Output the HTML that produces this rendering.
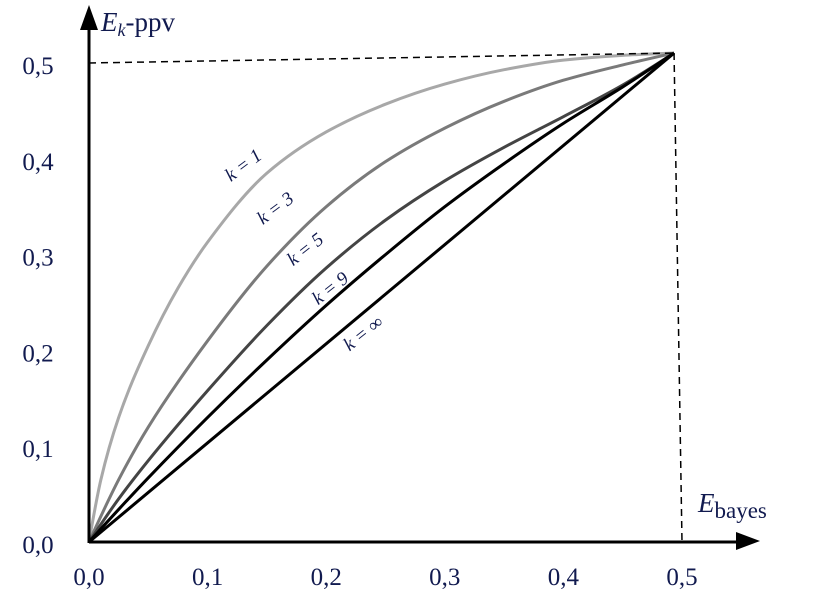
<!DOCTYPE html>
<html><head><meta charset="utf-8"><style>
html,body{margin:0;padding:0;background:#fff;}
svg{display:block;font-family:"Liberation Serif",serif;}
</style></head><body>
<svg id="chart" width="818" height="616" viewBox="0 0 818 616">
<g id="curves"></g>
<g id="axes"></g>
<g id="labels"></g>
</svg>
<script>
const xTicks=[0,0.1,0.2,0.3,0.4,0.5];
const xTickLabels=["0,0","0,1","0,2","0,3","0,4","0,5"];
const yTicks=[0,0.1,0.2,0.3,0.4,0.5];
const yTickLabels=["0,0","0,1","0,2","0,3","0,4","0,5"];
const seriesNames=["k=1","k=3","k=5","k=9","k=inf"];
const k1X=[0,0.01,0.025,0.05,0.075,0.1,0.15,0.2,0.25,0.3,0.35,0.4,0.45,0.4933];
const k1Y=[0,0.065,0.13,0.205,0.265,0.313,0.385,0.428,0.457,0.478,0.493,0.503,0.508,0.5104];
const k3X=[0,0.025,0.05,0.1,0.15,0.2,0.25,0.3,0.35,0.4,0.45,0.4933];
const k3Y=[0,0.065,0.12,0.21,0.288,0.350,0.397,0.432,0.46,0.482,0.498,0.5104];
const k5X=[0,0.025,0.05,0.1,0.15,0.2,0.25,0.3,0.35,0.4,0.45,0.4933];
const k5Y=[0,0.045,0.085,0.158,0.226,0.286,0.336,0.377,0.412,0.444,0.477,0.5104];
const k9X=[0,0.025,0.05,0.1,0.15,0.2,0.25,0.3,0.35,0.4,0.45,0.4933];
const k9Y=[0,0.034,0.067,0.13,0.19,0.247,0.30,0.35,0.395,0.437,0.475,0.5104];
const kInfX=[0,0.4933];
const kInfY=[0,0.5104];

const NS="http://www.w3.org/2000/svg";
const X0=89,Y0=542;
function sx(v){return X0+v*1186;}
function sy(v){return Y0-v*958;}
function mk(tag,attrs,parent){const e=document.createElementNS(NS,tag);for(const k in attrs)e.setAttribute(k,attrs[k]);parent.appendChild(e);return e;}
const curves=document.getElementById('curves'),axes=document.getElementById('axes'),labels=document.getElementById('labels');
const navy="#111a4f";

// monotone cubic (Fritsch-Carlson)
function monotone(xs,ys){
  const n=xs.length,dl=[],m=new Array(n);
  for(let i=0;i<n-1;i++)dl.push((ys[i+1]-ys[i])/(xs[i+1]-xs[i]));
  m[0]=dl[0];m[n-1]=dl[n-2];
  for(let i=1;i<n-1;i++){
    if(dl[i-1]*dl[i]<=0)m[i]=0;
    else{const h0=xs[i]-xs[i-1],h1=xs[i+1]-xs[i];const w1=2*h1+h0,w2=h1+2*h0;m[i]=(w1+w2)/(w1/dl[i-1]+w2/dl[i]);}
  }
  // end slope extrapolation
  if(n>2){m[0]=Math.max(0,(3*dl[0]-m[1])/2);m[n-1]=Math.max(0,(3*dl[n-2]-m[n-2])/2);}
  return m;
}
const endX=sx(kInfX[1]),endY=sy(kInfY[1]);
let d1=mk('line',{x1:X0,y1:sy(0.5),x2:endX,y2:endY,stroke:"#000","stroke-width":1.5,"stroke-dasharray":"7,5"},axes);


let d2=mk('line',{x1:endX,y1:endY,x2:sx(0.5),y2:Y0,stroke:"#000","stroke-width":1.5,"stroke-dasharray":"7,5"},axes);



const series=[[k1X,k1Y,"#a8a8a8"],[k3X,k3Y,"#7a7a7a"],[k5X,k5Y,"#444"],[k9X,k9Y,"#000"],[kInfX,kInfY,"#000"]];
series.forEach((s,i)=>{
  const xs=s[0],ys=s[1],m=monotone(xs,ys);
  let d="M"+sx(xs[0])+","+sy(ys[0]);
  for(let j=0;j<xs.length-1;j++){
    const h=xs[j+1]-xs[j];
    const c1x=xs[j]+h/3,c1y=ys[j]+m[j]*h/3,c2x=xs[j+1]-h/3,c2y=ys[j+1]-m[j+1]*h/3;
    d+=" C"+sx(c1x)+","+sy(c1y)+" "+sx(c2x)+","+sy(c2y)+" "+sx(xs[j+1])+","+sy(ys[j+1]);
  }
  const p=mk('path',{d:d,fill:"none",stroke:s[2],"stroke-width":3,"stroke-linejoin":"round"},curves);
  
  
});

let ax=mk('line',{x1:X0,y1:Y0,x2:742,y2:Y0,stroke:"#000","stroke-width":3},axes);


let axa=mk('polygon',{points:"760,541 736,532 736,550",fill:"#000"},axes);


let ay=mk('line',{x1:X0,y1:Y0+1,x2:X0,y2:22,stroke:"#000","stroke-width":3},axes);


let aya=mk('polygon',{points:"89,5 80,30 98,30",fill:"#000"},axes);



xTicks.forEach((v,i)=>{
  const t=mk('text',{x:sx(v),y:585,"text-anchor":"middle","font-size":25,fill:navy},labels);
  t.textContent=xTickLabels[i];
  
  
});
yTicks.forEach((v,i)=>{
  const t=mk('text',{x:38,y:sy(v)+11,"text-anchor":"middle","font-size":25,fill:navy},labels);
  t.textContent=yTickLabels[i];
  
  
});

const yt=mk('text',{x:101,y:31,"font-size":27,fill:navy},labels);
yt.innerHTML='<tspan font-style="italic">E</tspan><tspan font-style="italic" font-size="18" dy="5">k</tspan><tspan dy="-5">-ppv</tspan>';


const xt=mk('text',{x:698,y:512,"font-size":27,fill:navy},labels);
xt.innerHTML='<tspan font-style="italic">E</tspan><tspan font-size="23" dy="6">bayes</tspan>';



const curveLabelText=["k = 1","k = 3","k = 5","k = 9","k = ∞"];
const lpos=[[247,170,-37],[279,213,-37],[309,254,-38],[334,293,-38],[367,338,-38]];
curveLabelText.forEach((s,i)=>{
  const t=mk('text',{x:lpos[i][0],y:lpos[i][1],"text-anchor":"middle","font-size":19,"font-style":"italic",fill:navy,transform:"rotate("+lpos[i][2]+" "+lpos[i][0]+" "+lpos[i][1]+")"},labels);
  t.textContent=s;
  
  
});
</script>
</body></html>
